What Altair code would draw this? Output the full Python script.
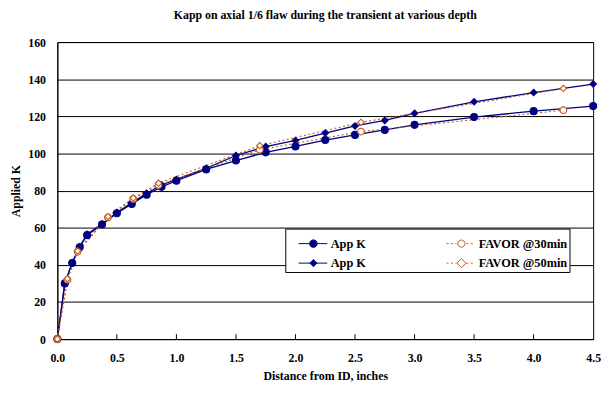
import altair as alt
import pandas as pd

# ---- data ----
x_app = [0, 0.0625, 0.125, 0.1875, 0.25, 0.375, 0.5, 0.625, 0.75, 0.875, 1.0,
         1.25, 1.5, 1.75, 2.0, 2.25, 2.5, 2.75, 3.0, 3.5, 4.0, 4.5]
k_app_30 = [0, 30, 41, 49.5, 56, 61.7, 67.8, 72.8, 77.8, 82, 85.3,
            91.4, 96.2, 100.6, 103.8, 107.2, 110, 112.7, 115.4, 119.6, 122.8, 125.5]
k_app_50 = [0, 30, 41.2, 49.8, 56.5, 62, 68.2, 73.4, 78.5, 83, 86,
            92, 98.9, 103.7, 107, 111, 114.8, 117.8, 121.6, 127.8, 132.8, 137.4]

x_favor = [0, 0.085, 0.17, 0.425, 0.6375, 0.85, 1.7, 2.55, 4.25]
k_favor_30 = [0, 32, 47, 65.5, 75.5, 83, 102, 111.8, 123.3]
k_favor_50 = [0, 32.5, 47.5, 66, 76, 84, 104.2, 116.8, 135]

series_names = ["App K 30", "FAVOR @30min", "App K 50", "FAVOR @50min"]
x_ticks = [0, 0.5, 1.0, 1.5, 2.0, 2.5, 3.0, 3.5, 4.0, 4.5]
inner_ticks = [0.5, 1.0, 1.5, 2.0, 2.5, 3.0, 3.5, 4.0]
y_ticks = [0, 20, 40, 60, 80, 100, 120, 140, 160]

NAVY = "#000080"
ORANGE = "#C0581F"

rows = []
for xv, yv in zip(x_app, k_app_30):
    rows.append({"x": xv, "k": yv, "series": series_names[0], "kind": "app"})
for xv, yv in zip(x_app, k_app_50):
    rows.append({"x": xv, "k": yv, "series": series_names[2], "kind": "app"})
for xv, yv in zip(x_favor, k_favor_30):
    rows.append({"x": xv, "k": yv, "series": series_names[1], "kind": "favor"})
for xv, yv in zip(x_favor, k_favor_50):
    rows.append({"x": xv, "k": yv, "series": series_names[3], "kind": "favor"})
df = pd.DataFrame(rows)
df["lseries"] = df["series"]
ticks_df = pd.DataFrame({"x": inner_ticks, "k": [0] * len(inner_ticks)})

FONT = "Liberation Serif"

# ---- legend symbols: line segment + marker, drawn as custom SVG paths ----
LEG_SIZE = 625          # symbol box 25 px -> 1 unit = 12.5 px
U = 12.5
LINE_L, LINE_R, MARK_C, MARK_R = -1.5, 27.5, 13.5, 4.0


def u(v):
    return round(v / U, 3)


def solid_line():
    return f"M{u(LINE_L)},0H{u(LINE_R)}"


def dotted_line():
    parts = []
    for a, b in [(LINE_L, MARK_C - MARK_R - 1), (MARK_C + MARK_R + 1, LINE_R)]:
        p = a
        while p < b:
            q = min(p + 2.0, b)
            parts.append(f"M{u(p)},0H{u(q)}")
            p += 4.5
    return "".join(parts)


def circle(r):
    l, rgt, rr = u(MARK_C - r), u(MARK_C + r), u(r)
    return f"M{l},0A{rr},{rr},0,1,0,{rgt},0A{rr},{rr},0,1,0,{l},0Z"


def diamond(h):
    c, hh = u(MARK_C), u(h)
    return f"M{round(c - hh, 3)},0L{c},{-hh}L{round(c + hh, 3)},0L{c},{hh}Z"


legend_paths = [
    solid_line() + circle(3.8),
    dotted_line() + circle(3.6),
    solid_line() + diamond(3.6),
    dotted_line() + diamond(4.6),
]

legend_spec = alt.Legend(
    title=None,
    orient="none",
    legendX=231,
    legendY=189,
    columns=2,
    direction="horizontal",
    columnPadding=70,
    rowPadding=0,
    padding=2,
    strokeColor="#000000",
    fillColor="#ffffff",
    labelFont=FONT,
    labelFontSize=12.5,
    labelFontWeight="bold",
    labelColor="#000000",
    labelOffset=18,
    symbolSize=LEG_SIZE,
    symbolStrokeWidth=1,
    symbolOpacity=1,
    labelExpr="indexof(datum.label, 'App K') == 0 ? 'App K' : datum.label",
)

xenc = alt.X(
    "x:Q",
    scale=alt.Scale(domain=[0, 4.5], nice=False, zero=False),
    axis=alt.Axis(
        values=x_ticks, format=".1f", title="Distance from ID, inches",
        ticks=False, grid=False, domainColor="#000000",
        labelPadding=14, titlePadding=7, labelFlush=False, labelOverlap=False,
    ),
)
yenc = alt.Y(
    "k:Q",
    scale=alt.Scale(domain=[0, 160], nice=False),
    axis=alt.Axis(
        values=y_ticks, tickCount=9, title="Applied K", ticks=False, grid=True,
        gridColor="#000000", gridWidth=1, domainColor="#000000",
        labelPadding=12, titlePadding=5, labelOverlap=False, labelFlush=False,
    ),
)

color_enc = alt.Color(
    "series:N",
    scale=alt.Scale(domain=series_names, range=[NAVY, ORANGE, NAVY, ORANGE]),
    legend=None,
)

app_lines = alt.Chart(df).transform_filter(
    alt.datum.kind == "app"
).mark_line(strokeWidth=1.3).encode(
    x=xenc, y=yenc, color=color_enc, detail="series:N", order="x:Q",
)

favor_lines = alt.Chart(df).transform_filter(
    alt.datum.kind == "favor"
).mark_line(strokeWidth=1.1, strokeDash=[2, 2.5]).encode(
    x=xenc, y=yenc, color=color_enc, detail="series:N", order="x:Q",
)

points = alt.Chart(df).mark_point(opacity=1, strokeWidth=1.1).encode(
    x=xenc,
    y=yenc,
    color=color_enc,
    shape=alt.Shape(
        "series:N",
        scale=alt.Scale(domain=series_names, range=["circle", "circle", "diamond", "diamond"]),
        legend=None,
    ),
    fill=alt.Fill(
        "series:N",
        scale=alt.Scale(domain=series_names, range=[NAVY, "#ffffff", NAVY, "#ffffff"]),
        legend=None,
    ),
    size=alt.Size(
        "series:N",
        scale=alt.Scale(domain=series_names, range=[50, 40, 55, 75]),
        legend=None,
    ),
)

# legend-only layer (no marks drawn: all rows filtered out)
legend_layer = alt.Chart(df).transform_filter("false").mark_point(
    opacity=1, strokeWidth=1, size=LEG_SIZE
).encode(
    x=xenc,
    y=yenc,
    color=alt.Color(
        "lseries:N",
        scale=alt.Scale(domain=series_names, range=[NAVY, ORANGE, NAVY, ORANGE]),
        legend=legend_spec,
    ),
    shape=alt.Shape(
        "lseries:N",
        scale=alt.Scale(domain=series_names, range=legend_paths),
        legend=legend_spec,
    ),
    fill=alt.Fill(
        "lseries:N",
        scale=alt.Scale(domain=series_names, range=[NAVY, "#ffffff", NAVY, "#ffffff"]),
        legend=legend_spec,
    ),
)

inner = alt.Chart(ticks_df).mark_rule(color="#000000", strokeWidth=1).encode(
    x=xenc,
    y=alt.value(296),
    y2=alt.value(301),
)

chart = alt.layer(inner, app_lines, favor_lines, points, legend_layer).resolve_scale(
    color="independent", shape="independent", fill="independent"
).properties(
    width=543,
    height=301,
    background="#ffffff",
    title=alt.TitleParams(
        "Kapp on axial 1/6 flaw during the transient at various depth",
        font=FONT, fontSize=12, fontWeight="bold", color="#000000",
        anchor="middle", offset=14,
    ),
    autosize=alt.AutoSizeParams(type="none"),
    padding={"left": 50, "top": 32, "right": 12, "bottom": 45},
).configure_view(
    stroke="#000000", strokeWidth=1
).configure_axis(
    labelFont=FONT, labelFontSize=12, labelFontWeight="bold", labelColor="#000000",
    titleFont=FONT, titleFontSize=12, titleFontWeight="bold", titleColor="#000000",
)

chart.save("out.html", embed_options={"renderer": "svg", "actions": False})
